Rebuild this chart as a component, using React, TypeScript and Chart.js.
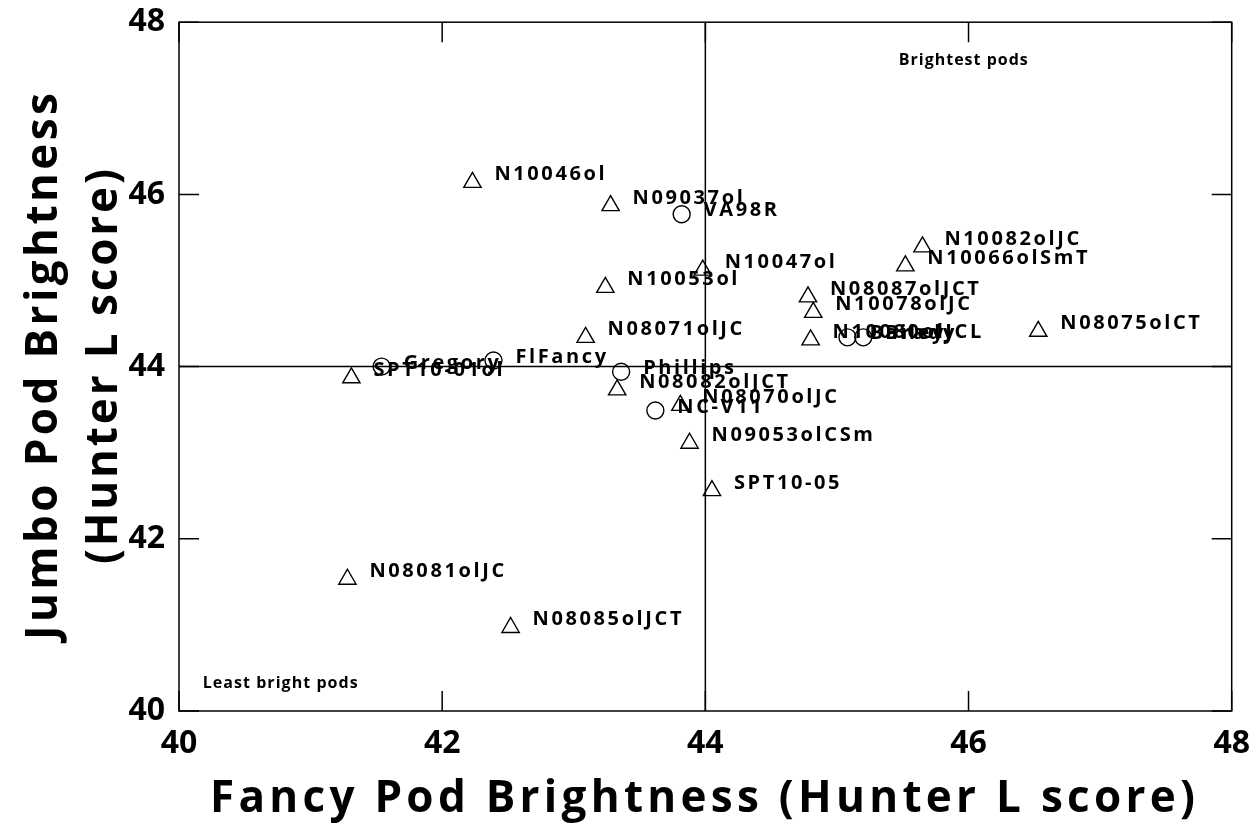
import React, { useEffect, useRef } from 'react';
import { Chart, registerables } from 'chart.js';

Chart.register(...registerables);

// ---- data ----
const triangleLabels = [
  'N10046ol', 'N09037ol', 'N10047ol', 'N10053ol', 'N10082olJC', 'N10066olSmT',
  'N08087olJCT', 'N10078olJC', 'N10080olJCL', 'N08075olCT', 'N08071olJC',
  'SPT10-01ol', 'N08082olJCT', 'N08070olJC', 'N09053olCSm', 'SPT10-05',
  'N08081olJC', 'N08085olJCT',
];
const triangleX = [
  42.23, 43.28, 43.98, 43.24, 45.65, 45.52,
  44.78, 44.82, 44.80, 46.53, 43.09,
  41.31, 43.33, 43.81, 43.88, 44.05,
  41.28, 42.52,
];
const triangleY = [
  46.14, 45.87, 45.12, 44.92, 45.39, 45.17,
  44.81, 44.63, 44.31, 44.41, 44.34,
  43.87, 43.73, 43.55, 43.11, 42.56,
  41.53, 40.97,
];

const circleLabels = ['VA98R', 'Bailey', 'Brady', 'FlFancy', 'Gregory', 'Phillips', 'NC-V11'];
const circleX = [43.82, 45.08, 45.20, 42.39, 41.54, 43.36, 43.62];
const circleY = [45.77, 44.34, 44.34, 44.07, 44.00, 43.94, 43.49];

const axisTickValues = [40, 42, 44, 46, 48];
const referenceX = 44;
const referenceY = 44;

const annotationTexts = ['Brightest pods', 'Least bright pods'];
const annotationX = [45.96, 40.18];
const annotationY = [47.57, 40.34];

const xTitle = 'Fancy Pod Brightness (Hunter L score)';
const yTitleLines = ['Jumbo Pod Brightness', '(Hunter L score)'];

// ---- styles ----
const FONT = '"Open Sans", "DejaVu Sans", sans-serif';
const SHIFT_Y = 11; // canvas is moved up by this much inside the page frame
const CANVAS_W = 1264;
const CANVAS_H = 836;

function drawFit(ctx: CanvasRenderingContext2D, text: string, left: number, y: number, target: number) {
  (ctx as any).letterSpacing = '0px';
  const w0 = ctx.measureText(text).width;
  const sp = (target - w0) / Math.max(1, text.length - 1);
  (ctx as any).letterSpacing = sp + 'px';
  ctx.textAlign = 'left';
  ctx.fillText(text, left, y);
  (ctx as any).letterSpacing = '0px';
}

const framePlugin = {
  id: 'frame',
  beforeDatasetsDraw(chart: any) {
    const { ctx, chartArea: a, scales } = chart;
    const xs = scales.x;
    const ys = scales.y;
    ctx.save();
    ctx.strokeStyle = '#000';
    ctx.lineWidth = 1.5;
    const rx = xs.getPixelForValue(referenceX);
    const ry = ys.getPixelForValue(referenceY);
    ctx.beginPath();
    ctx.moveTo(rx, a.top);
    ctx.lineTo(rx, a.bottom);
    ctx.moveTo(a.left, ry);
    ctx.lineTo(a.right, ry);
    ctx.stroke();
    ctx.strokeRect(a.left, a.top, a.right - a.left, a.bottom - a.top);
    const L = 20;
    ctx.beginPath();
    for (const v of axisTickValues) {
      const px = xs.getPixelForValue(v);
      ctx.moveTo(px, a.bottom);
      ctx.lineTo(px, a.bottom - L);
      ctx.moveTo(px, a.top);
      ctx.lineTo(px, a.top + L);
      const py = ys.getPixelForValue(v);
      ctx.moveTo(a.left, py);
      ctx.lineTo(a.left + L, py);
      ctx.moveTo(a.right, py);
      ctx.lineTo(a.right - L, py);
    }
    ctx.stroke();
    ctx.restore();
  },
  afterDatasetsDraw(chart: any) {
    const { ctx, scales } = chart;
    const xs = scales.x;
    const ys = scales.y;
    ctx.save();
    ctx.fillStyle = '#000';
    ctx.textBaseline = 'alphabetic';
    ctx.font = `bold 20px ${FONT}`;
    (ctx as any).letterSpacing = '2.6px';
    ctx.textAlign = 'left';
    const sets = [
      { labels: triangleLabels, xv: triangleX, yv: triangleY, dy: -2 },
      { labels: circleLabels, xv: circleX, yv: circleY, dy: 2 },
    ];
    for (const s of sets) {
      s.labels.forEach((t, i) => {
        const px = xs.getPixelForValue(s.xv[i]);
        const py = ys.getPixelForValue(s.yv[i]);
        ctx.fillText(t, px + 22, py + s.dy);
      });
    }
    (ctx as any).letterSpacing = '0px';
    ctx.font = `bold 16px ${FONT}`;
    const annWidths = [129, 155];
    const annAlign = ['center', 'left'];
    annotationTexts.forEach((t, i) => {
      const px = xs.getPixelForValue(annotationX[i]);
      const py = ys.getPixelForValue(annotationY[i]);
      const left = annAlign[i] === 'center' ? px - annWidths[i] / 2 : px;
      drawFit(ctx, t, left, py + 6, annWidths[i]);
    });
    ctx.font = `bold 44px ${FONT}`;
    drawFit(ctx, xTitle, 210, 812 + SHIFT_Y, 985);
    const cy = ys.getPixelForValue(44);
    const yWidths = [547, 395];
    const yBase = [57, 117];
    yTitleLines.forEach((t, i) => {
      ctx.save();
      ctx.translate(yBase[i], cy);
      ctx.rotate(-Math.PI / 2);
      drawFit(ctx, t, -yWidths[i] / 2, 0, yWidths[i]);
      ctx.restore();
    });
    ctx.restore();
  },
};

export default function App() {
  const ref = useRef<HTMLCanvasElement | null>(null);
  useEffect(() => {
    if (!ref.current) return;
    const tickFont = { family: FONT, size: 32, weight: 'bold' as const };
    const chart = new Chart(ref.current, {
      type: 'scatter',
      data: {
        datasets: [
          {
            label: 'Triangles',
            data: triangleX.map((x, i) => ({ x, y: triangleY[i] })),
            pointStyle: 'triangle',
            pointRadius: 10,
            pointHoverRadius: 10,
            borderColor: '#000',
            backgroundColor: 'rgba(0,0,0,0)',
            borderWidth: 1.4,
          },
          {
            label: 'Circles',
            data: circleX.map((x, i) => ({ x, y: circleY[i] })),
            pointStyle: 'circle',
            pointRadius: 8.5,
            pointHoverRadius: 8.5,
            borderColor: '#000',
            backgroundColor: 'rgba(0,0,0,0)',
            borderWidth: 1.4,
          },
        ],
      },
      options: {
        animation: false,
        responsive: false,
        layout: { padding: { top: 21, right: 25, left: 0, bottom: 0 } },
        plugins: { legend: { display: false }, tooltip: { enabled: false } },
        scales: {
          x: {
            type: 'linear',
            min: 40,
            max: 48,
            grid: { display: false, drawTicks: false },
            border: { display: false },
            ticks: { stepSize: 2, font: tickFont, color: '#000', padding: 14, maxRotation: 0 },
            afterFit: (s: any) => { s.height = 114; },
          },
          y: {
            type: 'linear',
            min: 40,
            max: 48,
            grid: { display: false, drawTicks: false },
            border: { display: false },
            ticks: { stepSize: 2, font: tickFont, color: '#000', padding: 14 },
            afterFit: (s: any) => { s.width = 179; },
          },
        },
      },
      plugins: [framePlugin],
    });
    return () => chart.destroy();
  }, []);
  return (
    <div style={{ position: 'absolute', left: 0, top: 0, width: 1257, height: 825, overflow: 'hidden', background: '#fff' }}>
      <canvas
        ref={ref}
        width={CANVAS_W}
        height={CANVAS_H}
        style={{ position: 'absolute', left: 0, top: -SHIFT_Y, display: 'block' }}
      />
    </div>
  );
}
